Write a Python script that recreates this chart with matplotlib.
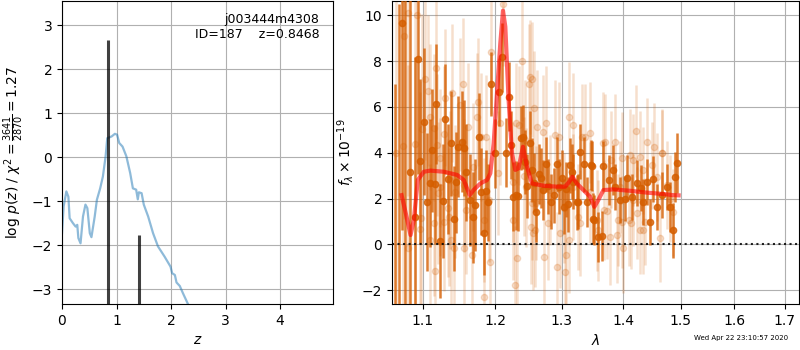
import matplotlib
matplotlib.use("Agg")
import matplotlib.pyplot as plt
from matplotlib.ticker import NullLocator, FixedLocator, FixedFormatter

# ---------------- left panel: log p(z) ----------------
pz_z = [0.0, 0.03, 0.08, 0.117, 0.14, 0.20, 0.25, 0.28, 0.30, 0.34, 0.385, 0.43,
        0.465, 0.51, 0.54, 0.60, 0.64, 0.70, 0.75, 0.80, 0.83, 0.91, 0.97, 1.01,
        1.05, 1.11, 1.18, 1.25, 1.30, 1.36, 1.39, 1.41, 1.46, 1.50, 1.58, 1.67,
        1.76, 1.88, 1.99, 2.02, 2.07, 2.10, 2.16, 2.22, 2.31, 2.40]
pz_logp = [-1.73, -1.12, -0.78, -0.90, -1.39, -1.50, -1.58, -1.54, -1.84, -1.96,
           -1.35, -1.08, -1.16, -1.73, -1.82, -1.35, -0.97, -0.71, -0.44, 0.02,
           0.43, 0.47, 0.53, 0.51, 0.32, 0.24, 0.02, -0.36, -0.71, -0.74, -0.96,
           -0.80, -0.82, -1.08, -1.35, -1.73, -2.03, -2.26, -2.49, -2.64, -2.68,
           -2.85, -2.93, -3.10, -3.34, -3.60]
peak_z = [0.8468, 1.413]
peak_logp = [2.66, -1.77]

root_name = "j003444m4308"
obj_id = 187
z_best = 0.8468
chi2_num = 3641
chi2_dof = 2870
timestamp = "Wed Apr 22 23:10:57 2020"

# ---------------- right panel: spectrum ----------------
dark_wave = [1.0637, 1.0690, 1.0723, 1.0762, 1.0826, 1.0895, 1.0934, 1.0960,
             1.1013, 1.1049, 1.1089, 1.1125, 1.1160, 1.1182, 1.1227, 1.1272,
             1.1303, 1.1334, 1.1375, 1.1417, 1.1454, 1.1477, 1.1527, 1.1560,
             1.1592, 1.1637, 1.1685, 1.1718, 1.1764, 1.1800, 1.1835, 1.1873,
             1.1902, 1.1944, 1.2000, 1.2049, 1.2098, 1.2150, 1.2195, 1.2230,
             1.2260, 1.2308, 1.2340, 1.2377, 1.2407, 1.2442, 1.2471, 1.2506,
             1.2536, 1.2570, 1.2601, 1.2647, 1.2680, 1.2717, 1.2758, 1.2794,
             1.2831, 1.2877, 1.2924, 1.2964, 1.3000, 1.3027, 1.3060, 1.3095,
             1.3131, 1.3160, 1.3183, 1.3237, 1.3263, 1.3290, 1.3359, 1.3407,
             1.3461, 1.3480, 1.3503, 1.3520, 1.3574, 1.3640, 1.3667, 1.3766,
             1.3823, 1.3859, 1.3943, 1.4027, 1.4066, 1.4141, 1.4226, 1.4294,
             1.4338, 1.4407, 1.4453, 1.4511, 1.4581, 1.4657, 1.4745, 1.4804,
             1.4852, 1.4893, 1.4935]
dark_flux = [-3.5, -3.5, 9.65, -3.0, 3.14, 1.18, 8.08, 3.62,
             5.36, 1.86, 2.69, 4.10, 2.62, 6.13, 0.15, 1.90,
             5.47, 2.87, 4.41, 1.13, 2.71, 4.26, 4.48, 4.20,
             3.14, 1.94, 1.18, 1.72, 4.70, 2.30, 0.48, 2.34,
             1.83, 6.99, 3.97, 6.65, 8.17, 4.00, 6.45, 4.34,
             2.08, 2.15, 2.10, 4.64, 4.67, 3.60, 2.56, 4.41,
             3.25, 2.70, 1.40, 3.07, 2.90, 2.37, 3.49, 2.53,
             1.86, 2.15, 3.49, 2.52, 2.90, 1.64, 2.40, 1.75,
             3.46, 3.17, 2.74, 1.85, 1.86, 4.05, 3.49, 1.86,
             3.46, 3.42, 1.13, 1.06, 0.33, 0.36, 3.42, 2.81,
             3.24, 2.50, 1.93, 2.00, 2.89, 2.07, 2.68, 2.46,
             1.85, 2.72, 0.98, 2.85, 1.63, 2.15, 2.50, 1.63,
             0.62, 2.94, 3.55]
dark_err = [10.5, 14.0, 9.0, 14.0, 8.0, 7.0, 5.0, 3.6,
            3.2, 3.0, 2.8, 2.7, 2.6, 2.6, 2.5, 2.5,
            2.4, 2.4, 2.3, 2.3, 2.2, 2.2, 2.2, 2.1,
            2.1, 2.0, 2.0, 2.0, 1.9, 1.9, 1.8, 1.8,
            1.7, 1.4, 1.5, 1.5, 1.5, 1.5, 1.5, 1.5,
            1.5, 1.5, 1.5, 1.4, 1.4, 1.4, 1.4, 1.4,
            1.4, 1.3, 1.3, 1.3, 1.3, 1.3, 1.2, 1.2,
            1.2, 1.2, 1.2, 1.2, 1.2, 1.2, 1.2, 1.2,
            1.2, 1.2, 1.2, 1.2, 1.2, 1.2, 1.2, 1.1,
            1.1, 1.1, 1.1, 1.1, 1.1, 1.1, 1.1, 1.1,
            1.1, 1.0, 1.0, 1.0, 1.0, 1.0, 1.0, 1.0,
            1.0, 1.0, 1.0, 1.0, 1.0, 1.0, 1.0, 1.1,
            1.2, 1.1, 1.3]

light_wave = [1.0650, 1.0745, 1.0752, 1.0804, 1.0810, 1.0891, 1.0926, 1.0961,
              1.0970, 1.0992, 1.1027, 1.1066, 1.1093, 1.1100, 1.1146, 1.1150,
              1.1160, 1.1182, 1.1191, 1.1200, 1.1227, 1.1236, 1.1280, 1.1290,
              1.1294, 1.1335, 1.1348, 1.1362, 1.1385, 1.1394, 1.1426, 1.1440,
              1.1499, 1.1546, 1.1554, 1.1560, 1.1592, 1.1620, 1.1667, 1.1689,
              1.1745, 1.1759, 1.1798, 1.1835, 1.1845, 1.1873, 1.1906, 1.1920,
              1.1940, 1.2041, 1.2074, 1.2113, 1.2259, 1.2267, 1.2284, 1.2308,
              1.2315, 1.2342, 1.2393, 1.2417, 1.2442, 1.2450, 1.2491, 1.2516,
              1.2527, 1.2541, 1.2545, 1.2565, 1.2576, 1.2592, 1.2607, 1.2626,
              1.2717, 1.2728, 1.2758, 1.2794, 1.2820, 1.2897, 1.2923, 1.2949,
              1.2975, 1.3027, 1.3053, 1.3069, 1.3106, 1.3110, 1.3174, 1.3183,
              1.3263, 1.3290, 1.3317, 1.3370, 1.3450, 1.3455, 1.3558, 1.3585,
              1.3667, 1.3670, 1.3694, 1.3733, 1.3777, 1.3788, 1.3859, 1.3887,
              1.3915, 1.3943, 1.3972, 1.3975, 1.3999, 1.4099, 1.4111, 1.4123,
              1.4168, 1.4170, 1.4213, 1.4226, 1.4281, 1.4285, 1.4327, 1.4338,
              1.4367, 1.4395, 1.4483, 1.4521, 1.4570, 1.4628, 1.4663, 1.4673,
              1.4745, 1.4800, 1.4860]
light_flux = [4.0, 4.30, 9.10, 10.1, -0.17, 4.40, 10.0, 0.67,
              1.15, 5.04, 7.20, 6.70, 0.19, 5.56, 5.10, 0.93,
              -1.17, 7.70, 4.33, 2.24, 3.76, 2.50, 4.80, 0.98,
              6.40, 1.58, 1.20, 2.80, 0.19, 6.60, -0.17, 2.29,
              6.10, 7.00, -0.17, 2.59, 1.50, 5.12, -0.47, 3.38,
              5.56, 6.20, 4.69, -2.30, 1.06, 4.69, 1.93, -0.77,
              8.40, 3.10, 5.28, 10.5, 1.06, 2.72, -1.78, 5.30,
              -0.60, 5.20, 8.00, 2.98, 4.56, 2.50, 7.00, 7.30,
              0.77, 7.20, 1.80, 0.50, 5.94, 0.62, 1.80, 5.12,
              4.90, -0.55, 5.28, 0.93, 2.37, 4.77, -0.99, 4.69,
              0.49, 1.58, -1.20, -0.47, 5.56, 0.19, 5.20, 2.50,
              1.20, 0.93, 4.69, 4.69, 4.87, 2.28, 1.06, 0.62,
              4.43, 1.50, 4.47, 1.45, 0.32, 3.70, 4.47, 0.41,
              1.06, 2.50, 3.77, 0.98, -0.14, 1.06, 3.90, 0.93,
              3.68, 1.93, 4.95, 1.37, 3.81, 0.62, 0.62, 3.24,
              0.98, 4.47, 3.46, 4.25, 2.94, 0.28, 3.97, 3.99,
              2.59, 2.00, 1.40]
light_err = [8.0, 8.0, 8.0, 8.0, 8.0, 7.0, 7.0, 6.0,
             6.0, 5.0, 3.5, 3.3, 3.3, 3.2, 3.2, 3.2,
             3.1, 3.1, 3.1, 3.1, 3.0, 3.0, 3.0, 3.0,
             3.0, 3.0, 3.0, 3.0, 3.0, 3.0, 2.9, 2.9,
             2.9, 2.9, 2.9, 2.9, 2.8, 2.8, 2.8, 2.8,
             2.8, 2.8, 2.8, 2.8, 2.7, 2.7, 2.7, 2.7,
             2.7, 2.7, 2.7, 2.7, 2.6, 2.6, 2.6, 2.6,
             2.6, 2.6, 2.6, 2.6, 2.6, 2.6, 2.6, 2.5,
             2.5, 2.5, 2.5, 2.5, 2.5, 2.5, 2.5, 2.5,
             2.5, 2.5, 2.5, 2.5, 2.4, 2.4, 2.4, 2.4,
             2.4, 2.4, 2.4, 2.4, 2.4, 2.3, 2.3, 2.3,
             2.3, 2.3, 2.3, 2.3, 2.2, 2.2, 2.2, 2.2,
             2.2, 2.2, 2.1, 2.1, 2.1, 2.1, 2.1, 2.1,
             2.0, 2.0, 2.0, 2.0, 2.0, 2.0, 2.0, 2.0,
             2.0, 2.0, 2.0, 2.0, 2.0, 1.9, 1.9, 1.9,
             1.9, 1.9, 1.9, 1.9, 1.9, 1.9, 1.9, 1.9,
             1.9, 1.9, 1.9]

model_wave = [1.0723, 1.0787, 1.0839, 1.0882, 1.0934, 1.1013, 1.1102, 1.1281,
              1.1464, 1.1555, 1.1637, 1.1692, 1.1788, 1.1883, 1.1930, 1.1978,
              1.2026, 1.2074, 1.2113, 1.2147, 1.2195, 1.2245, 1.2293, 1.2342,
              1.2407, 1.2467, 1.2542, 1.2717, 1.2924, 1.3053, 1.3120, 1.3168,
              1.3237, 1.3343, 1.3450, 1.3519, 1.3585, 1.3667, 1.3832, 1.4111,
              1.4395, 1.4681, 1.4857, 1.4960]
model_flux = [2.15, 1.21, 0.41, 1.06, 2.81, 3.17, 3.22, 3.17,
              3.03, 2.81, 2.15, 2.37, 2.66, 2.81, 3.10, 4.41,
              6.59, 8.78, 10.2, 9.50, 6.30, 3.97, 3.25, 3.32,
              4.26, 3.39, 2.66, 2.56, 2.52, 2.52, 2.74, 2.95,
              2.66, 2.37, 2.08, 1.64, 1.94, 2.37, 2.40, 2.34,
              2.26, 2.20, 2.15, 2.14]

wave_ticks = [1.1, 1.2, 1.3, 1.4, 1.5, 1.6, 1.7]
grism_color = (0.8353, 0.3686, 0.0)

# ---------------- figure ----------------
fig = plt.figure(figsize=(8, 3.5), dpi=100)
ax1 = fig.add_axes([62/800, 46/350, 271/800, 303/350])
ax2 = fig.add_axes([392/800, 46/350, 407/800, 303/350])

ax1.plot(pz_z, pz_logp, color='#1f77b4', alpha=0.5, lw=1.6)
ax1.vlines(peak_z, -10, peak_logp, color='k', alpha=0.75, lw=2.2)
ax1.set_xlim(0, 4.97)
ax1.set_ylim(-3.34, 3.55)
ax1.set_xticks([0, 1, 2, 3, 4])
ax1.set_yticks([-3, -2, -1, 0, 1, 2, 3])
ax1.grid(True)
ax1.set_axisbelow(True)
ax1.set_xlabel(r'$z$')
ax1.set_ylabel(r'log $p(z)$' + ' / ' +
               r'$\chi^2=\frac{%d}{%d}=%.2f$' % (chi2_num, chi2_dof, chi2_num/chi2_dof))
ax1.text(0.95, 0.96, '{0}\nID={1:<5d}  z={2:.4f}'.format(root_name, obj_id, z_best),
         ha='right', va='top', transform=ax1.transAxes, fontsize=9)

ax2.errorbar(light_wave, light_flux, yerr=light_err, fmt='o', color=grism_color,
             alpha=0.2, markersize=4.5, elinewidth=1.8, capsize=0, zorder=2)
ax2.errorbar(dark_wave, dark_flux, yerr=dark_err, fmt='o', color=grism_color,
             alpha=0.8, markersize=4.5, elinewidth=1.8, capsize=0, zorder=3)
ax2.plot(model_wave, model_flux, color='r', alpha=0.6, lw=3, zorder=4)
ax2.axhline(0, color='k', linestyle=':', lw=1.5, alpha=0.85, zorder=5)
ax2.set_xscale('log')
ax2.set_xlim(1.06, 1.729)
ax2.set_ylim(-2.6, 10.62)
ax2.xaxis.set_major_locator(FixedLocator(wave_ticks))
ax2.xaxis.set_major_formatter(FixedFormatter(['%.1f' % w for w in wave_ticks]))
ax2.xaxis.set_minor_locator(NullLocator())
ax2.set_yticks([-2, 0, 2, 4, 6, 8, 10])
ax2.grid(True)
ax2.set_axisbelow(True)
ax2.set_xlabel(r'$\lambda$')
ax2.set_ylabel(r'$f_\lambda\times10^{-19}$')

fig.text(0.985, 0.025, timestamp, ha='right', va='bottom', fontsize=5)

fig.savefig('out.png', dpi=100)
